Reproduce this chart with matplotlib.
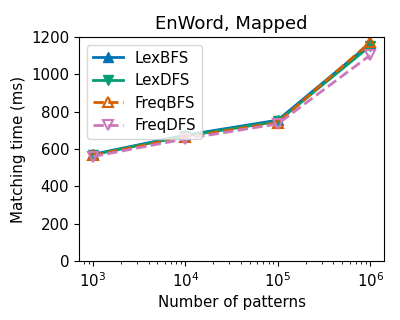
import matplotlib
matplotlib.use('Agg')
import matplotlib.pyplot as plt

# data
patterns = [1e3, 1e4, 1e5, 1e6]
lex_bfs = [572, 675, 755, 1165]
lex_dfs = [570, 670, 748, 1152]
freq_bfs = [566, 665, 742, 1172]
freq_dfs = [560, 655, 735, 1103]

plt.rcParams['font.size'] = 10.8

fig, ax = plt.subplots(figsize=(4, 3.2), dpi=100)

ax.plot(patterns, lex_bfs, '-', marker='^', color='#0173b2', lw=2, ms=7, label='LexBFS')
ax.plot(patterns, lex_dfs, '-', marker='v', color='#029e73', lw=2, ms=7, label='LexDFS')
ax.plot(patterns, freq_bfs, '--', marker='^', color='#d55e00', lw=2, ms=7,
        mfc='none', mew=1.5, label='FreqBFS')
ax.plot(patterns, freq_dfs, '--', marker='v', color='#cc78bc', lw=2, ms=7,
        mfc='none', mew=1.5, label='FreqDFS')

ax.set_xscale('log')
ax.set_ylim(0, 1200)
ax.set_xlabel('Number of patterns')
ax.set_ylabel('Matching time (ms)')
ax.set_title('EnWord, Mapped')
ax.legend(loc='upper left')

fig.subplots_adjust(left=0.1975, right=0.96, top=0.884, bottom=0.184)
fig.savefig('out.png')
